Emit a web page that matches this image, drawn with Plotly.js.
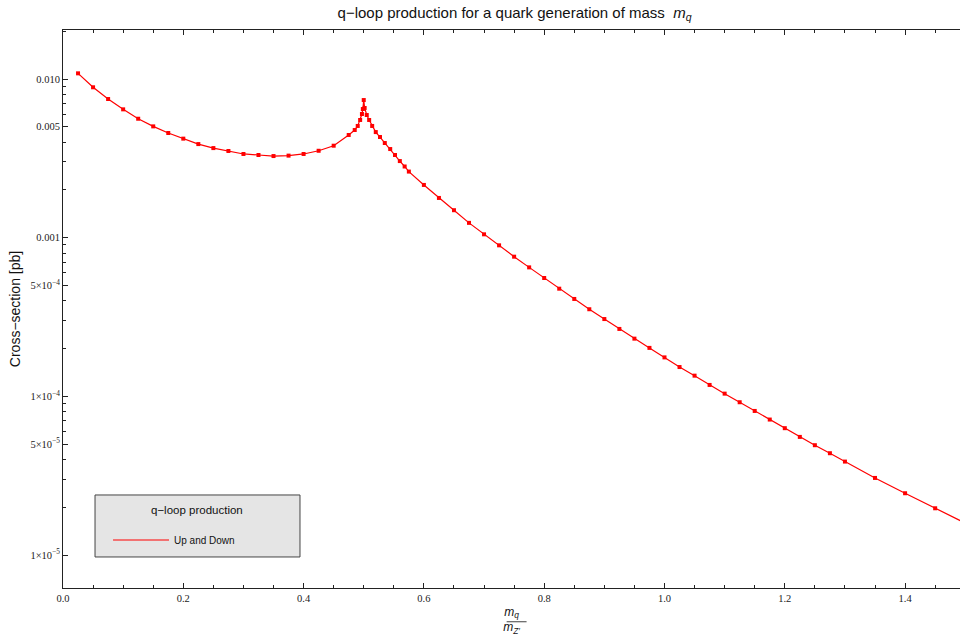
<!DOCTYPE html>
<html>
<head>
<meta charset="utf-8">
<script src="https://cdn.plot.ly/plotly-3.0.1.min.js"></script>
<style>html,body{margin:0;padding:0;background:#fff;}#chart{width:960px;height:636px;}</style>
</head>
<body>
<div id="chart"></div>
<script>
// mass ratio m_q / m_Z'
const massRatio = [
  0.025, 0.05, 0.075, 0.1, 0.125, 0.15, 0.175, 0.2, 0.225, 0.25, 0.275, 0.3, 0.325, 0.35, 0.375, 0.4, 0.425, 0.45,
  0.475, 0.485, 0.49, 0.494, 0.497, 0.4985, 0.5, 0.5015, 0.505, 0.509, 0.514, 0.52, 0.527, 0.535, 0.544, 0.552, 0.56, 0.568, 0.575,
  0.6, 0.625, 0.65, 0.675, 0.7, 0.725, 0.75, 0.775, 0.8, 0.825, 0.85, 0.875, 0.9, 0.925, 0.95, 0.975, 1.0,
  1.025, 1.05, 1.075, 1.1, 1.125, 1.15, 1.175, 1.2, 1.225, 1.25, 1.275, 1.3, 1.35, 1.4, 1.45, 1.5
];
// cross-section [pb], "Up and Down"
const crossSection = [
  0.01086, 0.00887, 0.00748, 0.00644, 0.00562, 0.00503, 0.00457, 0.00421, 0.00389, 0.00367, 0.00352, 0.00337, 0.00332, 0.00327, 0.00329, 0.00337, 0.00353, 0.00380,
  0.00444, 0.00477, 0.00506, 0.00552, 0.00602, 0.00647, 0.00737, 0.00657, 0.00593, 0.00552, 0.00506, 0.00463, 0.00431, 0.00395, 0.00362, 0.00332, 0.00304, 0.00281, 0.00261,
  0.00215, 0.00178, 0.00149, 0.00124, 0.00105, 0.000895, 0.000759, 0.000650, 0.000557, 0.000477, 0.000411, 0.000354, 0.000307, 0.000266, 0.000231, 0.000202, 0.000176,
  0.000153, 0.000135, 0.000118, 0.000104, 9.18e-5, 8.09e-5, 7.14e-5, 6.30e-5, 5.55e-5, 4.92e-5, 4.38e-5, 3.88e-5, 3.06e-5, 2.45e-5, 1.97e-5, 1.59e-5
];
const seriesName = "Up and Down";
const legendTitle = "q\u2212loop production";

const xTickVals = [0.0, 0.2, 0.4, 0.6, 0.8, 1.0, 1.2, 1.4];
const xTickText = ["0.0", "0.2", "0.4", "0.6", "0.8", "1.0", "1.2", "1.4"];
const yTickVals = [1e-5, 5e-5, 1e-4, 5e-4, 0.001, 0.005, 0.010];
const yTickText = ["1\u00d710<sup>\u22125</sup>", "5\u00d710<sup>\u22125</sup>", "1\u00d710<sup>\u22124</sup>", "5\u00d710<sup>\u22124</sup>", "0.001", "0.005", "0.010"];
const yMinorVals = [
  2e-5, 3e-5, 4e-5, 6e-5, 7e-5, 8e-5, 9e-5,
  2e-4, 3e-4, 4e-4, 6e-4, 7e-4, 8e-4, 9e-4,
  0.002, 0.003, 0.004, 0.006, 0.007, 0.008, 0.009, 0.02
];

const lineTrace = {
  x: massRatio, y: crossSection, type: "scatter", mode: "lines", name: seriesName,
  line: {color: "#ff0000", width: 1.2}, showlegend: true
};
const markerTrace = {
  x: massRatio, y: crossSection, type: "scatter", mode: "markers", name: seriesName,
  marker: {color: "#ff0000", symbol: "square", size: 4}, showlegend: false
};

const axisCommon = {
  showline: true, linecolor: "#222", linewidth: 1,
  ticks: "inside", tickcolor: "#222", tickwidth: 1, ticklen: 5,
  showgrid: false, zeroline: false,
  tickfont: {family: "Liberation Serif, Times New Roman, serif", size: 10.5, color: "#222"}
};

const layout = {
  width: 960, height: 636,
  margin: {l: 63, r: 0, t: 30, b: 48},
  paper_bgcolor: "#fff", plot_bgcolor: "#fff",
  title: {text: "q\u2212loop production for a quark generation of mass  <i>m<sub>q</sub></i>", x: 0.536, xanchor: "center", y: 0.98, yanchor: "middle",
          font: {family: "Liberation Sans, Arial, sans-serif", size: 15, color: "#111"}},
  xaxis: Object.assign({}, axisCommon, {
    mirror: "allticks",
    range: [0, 1.4913], tickmode: "array", tickvals: xTickVals, ticktext: xTickText,
    minor: {dtick: 0.05, tick0: 0, ticks: "inside", ticklen: 3, tickcolor: "#222"},
    title: {text: "<i>m<sub>q</sub></i><br><i>m<sub>Z\u2032</sub></i>", standoff: 7,
            font: {family: "Liberation Sans, Arial, sans-serif", size: 12, color: "#111"}}
  }),
  yaxis: Object.assign({}, axisCommon, {
    mirror: false,
    type: "log", range: [-5.208, -1.691], tickmode: "array", tickvals: yTickVals, ticktext: yTickText,
    minor: {tickmode: "array", tickvals: yMinorVals, ticks: "inside", ticklen: 3, tickcolor: "#222"},
    title: {text: "Cross\u2212section [pb]", standoff: 6,
            font: {family: "Liberation Sans, Arial, sans-serif", size: 14, color: "#111"}}
  }),
  showlegend: true,
  legend: {
    x: 0.0502, y: 0.086, xanchor: "left", yanchor: "middle",
    bgcolor: "rgba(0,0,0,0)", borderwidth: 0,
    font: {family: "Liberation Sans, Arial, sans-serif", size: 10, color: "#111"},
    itemwidth: 56
  },
  annotations: [
    {text: legendTitle, xref: "paper", yref: "paper", x: 0.1494, y: 0.1398, xanchor: "center", yanchor: "middle", showarrow: false,
     font: {family: "Liberation Sans, Arial, sans-serif", size: 11.5, color: "#111"}}
  ],
  shapes: [
    {type: "rect", xref: "paper", yref: "paper", x0: 0.0357, x1: 0.2642, y0: 0.0556, y1: 0.1667,
     fillcolor: "#e5e5e5", line: {color: "#444", width: 1}, layer: "below"},
    {type: "line", xref: "paper", yref: "paper", x0: 0.4946, x1: 0.5168, y0: -0.0605, y1: -0.0605, line: {color: "#111", width: 0.8}}
  ]
};

Plotly.newPlot("chart", [lineTrace, markerTrace], layout, {displayModeBar: false, staticPlot: true});
</script>
</body>
</html>
